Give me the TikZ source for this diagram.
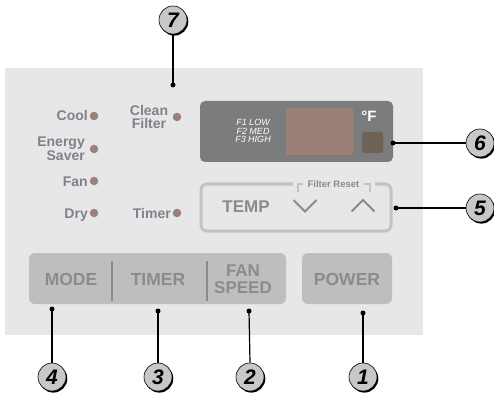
\documentclass[tikz,border=0pt]{standalone}
\usepackage{fontspec}
\setmainfont{Liberation Sans}
\usetikzlibrary{shadows}
\definecolor{panelbg}{HTML}{E6E7E8}
\definecolor{btnfill}{HTML}{BDBEC0}
\definecolor{btntext}{HTML}{8A8B8D}
\definecolor{lbltext}{HTML}{818285}
\definecolor{ledc}{HTML}{9B8175}
\definecolor{dispc}{HTML}{7B7C7E}
\definecolor{brownrect}{HTML}{9A8077}
\definecolor{smallsq}{HTML}{6F6257}
\definecolor{outlinec}{HTML}{C2C3C5}
\definecolor{calloutfill}{HTML}{CAC8C6}
\tikzset{
  lbl/.style={text=lbltext, font=\fontsize{14}{14}\selectfont\bfseries, inner sep=0pt},
  btnlbl/.style={text=btntext, font=\fontsize{17.5}{17.5}\selectfont\bfseries, inner sep=0pt},
  led/.style={circle, fill=ledc, minimum size=8.5pt, inner sep=0pt},
  pin/.style={circle, fill=black, minimum size=5pt, inner sep=0pt},
  callout/.style={circle, draw=black, line width=0.6pt, fill=calloutfill, minimum size=28pt, inner sep=0pt,
    font=\fontsize{21}{21}\selectfont\bfseries\itshape,
    drop shadow={shadow xshift=1.3pt, shadow yshift=-1.6pt, fill=black, opacity=1}},
  lead/.style={draw=black, line width=1.2pt},
}
\begin{document}
\begin{tikzpicture}[x=1pt,y=-1pt]
\useasboundingbox (0,0) rectangle (494,395);
% panel
\fill[panelbg] (5,68) rectangle (423,335);
% LEDs and labels
\node[led] (ledcool) at (94,116) {};
\node[lbl, anchor=base east] (tcool) at (88,121) {Cool};
\node[led] (ledes) at (94,149) {};
\node[lbl, anchor=east, align=right, font=\fontsize{14}{13.5}\selectfont\bfseries] (tes) at (85,149) {Energy\\Saver};
\node[led] (ledfan) at (94,181) {};
\node[lbl, anchor=base east] (tfan) at (88,186) {Fan};
\node[led] (leddry) at (94,213) {};
\node[lbl, anchor=base east] (tdry) at (88,218) {Dry};
\node[led] (ledcf) at (177,117) {};
\node[lbl, anchor=center, align=center, font=\fontsize{14}{12.5}\selectfont\bfseries] (tcf) at (149,117) {Clean\\Filter};
\node[led] (ledtimer) at (177,213) {};
\node[lbl, anchor=base east] (ttimer) at (171,218) {Timer};
% display
\fill[dispc, rounded corners=5pt] (200,101) rectangle (393,162);
\fill[brownrect, rounded corners=2pt] (286,108) rectangle (353,155);
\fill[smallsq, rounded corners=2pt] (362,132) rectangle (383,153);
\node[text=white, font=\fontsize{15}{15}\selectfont\bfseries, inner sep=0pt] (degf) at (369,116) {°F};
\node[text=white, font=\fontsize{9}{8.8}\selectfont\itshape, align=center, inner sep=0pt] (fspeed) at (253,131) {F1 LOW\\F2 MED\\F3 HIGH};
% temp box
\draw[outlinec, line width=3pt, rounded corners=6pt] (201,184) rectangle (391,231);
\fill[panelbg] (293,181) rectangle (375,187);
\draw[outlinec, line width=2pt] (297.5,192) -- (297.5,184) -- (303,184);
\draw[outlinec, line width=2pt] (364,184) -- (370,184) -- (370,192);
\node[text=btntext, font=\fontsize{9.5}{9.5}\selectfont\bfseries, inner sep=0pt] (tfr) at (333.5,184.5) {Filter Reset};
\node[btnlbl, font=\fontsize{17}{17}\selectfont\bfseries] (ttemp) at (246,207) {TEMP};
\draw[btntext, line width=2pt] (293.5,200) -- (305,211.5) -- (316.5,200);
\draw[btntext, line width=2pt] (351.5,211.5) -- (363,200) -- (374.5,211.5);
% bottom buttons
\fill[btnfill, rounded corners=6pt] (29,253) rectangle (286,304);
\fill[btnfill, rounded corners=6pt] (302,253) rectangle (392,304);
\draw[btntext, line width=1.3pt] (112,261) -- (112,301);
\draw[btntext, line width=1.3pt] (207,261) -- (207,301);
\node[btnlbl] (tmode) at (71,279) {MODE};
\node[btnlbl] (ttimerb) at (158,279) {TIMER};
\node[btnlbl, align=center, font=\fontsize{17}{16.5}\selectfont\bfseries] (tfan) at (243,279) {FAN\\SPEED};
\node[btnlbl] (tpower) at (347,279) {POWER};
% pins
\node[pin] (p7) at (173,85) {};
\node[pin] (p6) at (393,143) {};
\node[pin] (p5) at (396,208) {};
\node[pin] (p4) at (52,309) {};
\node[pin] (p3) at (158,311) {};
\node[pin] (p2) at (249,311) {};
\node[pin] (p1) at (363,313) {};
% callouts
\node[callout] (c7) at (173,20) {7};
\node[callout] (c6) at (480,143) {6};
\node[callout] (c5) at (480,208) {5};
\node[callout] (c4) at (52,377) {4};
\node[callout] (c3) at (158,377) {3};
\node[callout] (c2) at (250,377) {2};
\node[callout] (c1) at (363,377) {1};
% leads
\draw[lead] (p7.center) -- (c7.south);
\draw[lead] (p6.center) -- (c6.west);
\draw[lead] (p5.center) -- (c5.west);
\draw[lead] (p4.center) -- (c4.north);
\draw[lead] (p3.center) -- (c3.north);
\draw[lead] (p2.center) -- (c2.north);
\draw[lead] (p1.center) -- (c1.north);
\end{tikzpicture}
\end{document}
